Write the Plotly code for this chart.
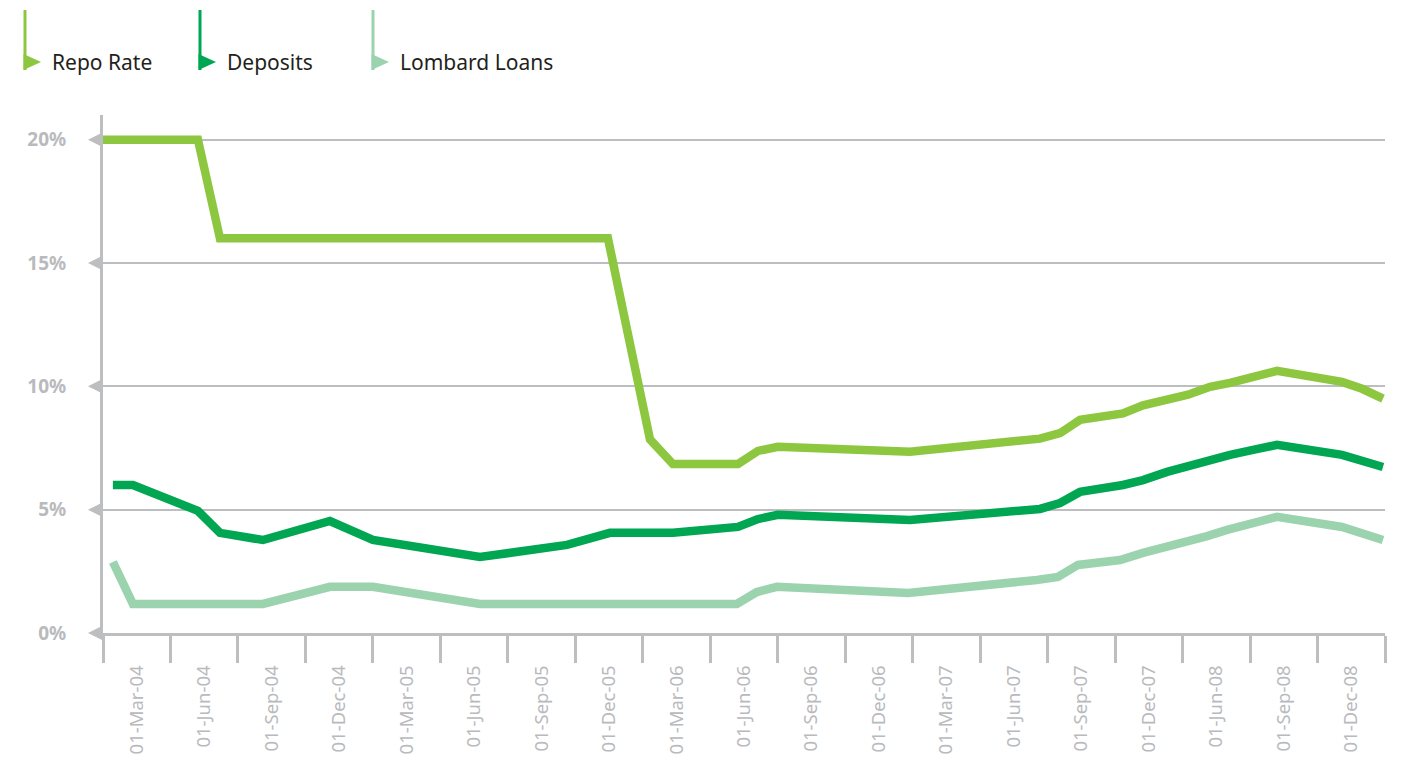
import plotly.graph_objects as go

# Period positions are expressed in months from the start of the axis
# (each labelled slot on the axis spans three months).
slot_labels = [
    "01-Mar-04", "01-Jun-04", "01-Sep-04", "01-Dec-04", "01-Mar-05",
    "01-Jun-05", "01-Sep-05", "01-Dec-05", "01-Mar-06", "01-Jun-06",
    "01-Sep-06", "01-Dec-06", "01-Mar-07", "01-Jun-07", "01-Sep-07",
    "01-Dec-07", "01-Jun-08", "01-Sep-08", "01-Dec-08",
]
y_ticks = [0, 5, 10, 15, 20]

repo_x = [0, 4.22, 5.2, 22.45, 24.32, 25.34, 28.23, 29.12, 30.01, 35.88,
          41.66, 42.55, 43.44, 45.35, 46.24, 47.31, 48.24, 49.22, 50.11,
          52.2, 55.09, 55.98, 56.91]
repo_rate = [20, 20, 16, 16, 7.85, 6.85, 6.85, 7.38, 7.55, 7.35,
             7.88, 8.1, 8.64, 8.9, 9.23, 9.48, 9.66, 9.98, 10.14,
             10.63, 10.18, 9.9, 9.5]

deposits_x = [0.44, 1.33, 4.22, 5.2, 7.11, 10.09, 12.0, 16.76, 20.63, 22.54,
              25.34, 28.23, 29.12, 30.01, 35.88, 41.66, 42.55, 43.44, 45.35,
              46.24, 47.31, 48.24, 49.22, 50.11, 51.13, 52.2, 55.09, 55.98,
              56.91]
deposits = [6.0, 6.0, 4.95, 4.06, 3.77, 4.54, 3.77, 3.08, 3.57, 4.06,
            4.06, 4.3, 4.62, 4.79, 4.58, 5.03, 5.27, 5.72, 6.0,
            6.2, 6.53, 6.78, 6.98, 7.22, 7.42, 7.63, 7.22, 6.98,
            6.73]

lombard_x = [0.44, 1.33, 7.11, 10.09, 12.0, 16.76, 28.18, 29.07, 29.96, 35.8,
             41.52, 42.46, 43.35, 45.22, 46.24, 48.02, 49.09, 49.98, 51.13,
             52.2, 55.09, 56.02, 56.91]
lombard_loans = [2.88, 1.18, 1.18, 1.87, 1.87, 1.18, 1.18, 1.66, 1.87, 1.62,
                 2.15, 2.27, 2.76, 2.96, 3.25, 3.65, 3.93, 4.18, 4.5,
                 4.71, 4.3, 4.06, 3.77]

C_REPO = "#8dc63f"
C_DEP = "#00a651"
C_LOMB = "#9bd3ae"
C_AXIS = "#bcbec0"
C_LABEL = "#b9babd"

MONTHS_PER_SLOT = 3
n_slots = len(slot_labels)
x_max = n_slots * MONTHS_PER_SLOT
y_max = 21
label_pos = [MONTHS_PER_SLOT * (i + 0.5) for i in range(n_slots)]

# Figure geometry (pixels)
W, H = 1404, 763
M_L, M_R, M_T, M_B = 103, 19, 115, 130
PW, PH = W - M_L - M_R, H - M_T - M_B


def px_to_paper_x(px):
    return (px - M_L) / PW


def px_to_paper_y(py):
    return (H - M_B - py) / PH


fig = go.Figure()

series = [
    ("Lombard Loans", lombard_x, lombard_loans, C_LOMB),
    ("Deposits", deposits_x, deposits, C_DEP),
    ("Repo Rate", repo_x, repo_rate, C_REPO),
]
for name, xs, ys, color in series:
    fig.add_trace(go.Scatter(
        x=xs, y=ys, name=name, mode="lines",
        line=dict(color=color, width=8.5),
        showlegend=False, hoverinfo="skip",
    ))

fig.update_xaxes(
    range=[0, x_max], automargin=False,
    tickmode="array", tickvals=label_pos, ticktext=slot_labels,
    tickangle=-90, ticks="", ticklabelstandoff=22,
    tickfont=dict(family="Noto Sans", size=18.5, color=C_LABEL),
    showgrid=False, zeroline=False,
    showline=True, linecolor=C_AXIS, linewidth=3,
    minor=dict(tick0=0, dtick=MONTHS_PER_SLOT, ticks="outside",
               ticklen=27, tickwidth=3, tickcolor=C_AXIS, showgrid=False),
)
fig.update_yaxes(
    range=[0, y_max], automargin=False,
    tickmode="array", tickvals=y_ticks,
    ticktext=[f"{v}%" for v in y_ticks],
    ticks="", ticklabelstandoff=30,
    tickfont=dict(family="Noto Sans", size=19, color=C_LABEL, weight="bold"),
    showgrid=True, gridcolor=C_AXIS, gridwidth=2,
    zeroline=False,
    showline=True, linecolor=C_AXIS, linewidth=3,
)

shapes = []
annotations = []

# Left-pointing arrowheads at each y tick
ax0 = px_to_paper_x(M_L)
tri_w = 15 / PW
tri_h = 7.5 / PH
for v in y_ticks:
    yc = v / y_max
    shapes.append(dict(type="path", xref="paper", yref="paper",
                       path=(f"M {ax0},{yc + tri_h} L {ax0 - tri_w},{yc} "
                             f"L {ax0},{yc - tri_h} Z"),
                       fillcolor=C_AXIS, line=dict(width=0), layer="above"))

# Custom legend: a vertical stem with a right-pointing arrowhead and a label
legend_items = [("Repo Rate", C_REPO, 25), ("Deposits", C_DEP, 200),
                ("Lombard Loans", C_LOMB, 373)]
for label, color, px in legend_items:
    x0 = px_to_paper_x(px)
    shapes.append(dict(type="line", xref="paper", yref="paper",
                       x0=x0, x1=x0, y0=px_to_paper_y(10), y1=px_to_paper_y(70),
                       line=dict(color=color, width=3)))
    shapes.append(dict(type="path", xref="paper", yref="paper",
                       path=(f"M {px_to_paper_x(px - 1.5)},{px_to_paper_y(54)} "
                             f"L {px_to_paper_x(px + 16)},{px_to_paper_y(62)} "
                             f"L {px_to_paper_x(px - 1.5)},{px_to_paper_y(70)} Z"),
                       fillcolor=color, line=dict(width=0)))
    annotations.append(dict(text=label, xref="paper", yref="paper",
                            x=px_to_paper_x(px + 25), y=px_to_paper_y(62),
                            xanchor="left", yanchor="middle", showarrow=False,
                            font=dict(family="Noto Sans", size=21, color="#231f20")))

fig.update_layout(
    width=W, height=H,
    margin=dict(l=M_L, r=M_R, t=M_T, b=M_B),
    plot_bgcolor="white", paper_bgcolor="white",
    shapes=shapes, annotations=annotations,
)

fig.write_html("out.html")
